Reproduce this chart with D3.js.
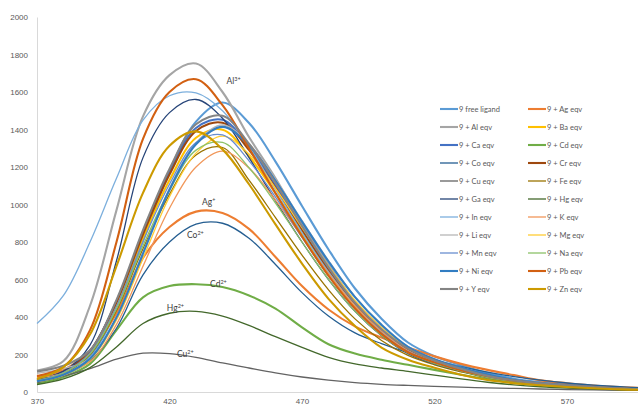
<!DOCTYPE html>
<html>
<head>
<meta charset="utf-8">
<script src="https://cdn.jsdelivr.net/npm/d3@7"></script>
<style>
  html, body { margin: 0; padding: 0; background: #fff; }
  svg { display: block; font-family: Lato, "Liberation Sans", sans-serif; }
</style>
</head>
<body>
<svg id="chart" width="638" height="407"></svg>
<script>
// Emission wavelengths (nm) at which the spectra are sampled
const wavelengths = [370,380,390,400,410,420,430,440,450,460,470,480,490,500,510,520,530,540,550,560,570,580,590,600];

const xTicks = [370, 420, 470, 520, 570];
const yTicks = [0, 200, 400, 600, 800, 1000, 1200, 1400, 1600, 1800, 2000];

const seriesNames = [
  "9 free ligand", "9 + Ag eqv", "9 + Al eqv", "9 + Ba eqv", "9 + Ca eqv", "9 + Cd eqv",
  "9 + Co eqv", "9 + Cr eqv", "9 + Cu eqv", "9 + Fe eqv", "9 + Ga eqv", "9 + Hg eqv",
  "9 + In eqv", "9 + K eqv", "9 + Li eqv", "9 + Mg eqv", "9 + Mn eqv", "9 + Na eqv",
  "9 + Ni eqv", "9 + Pb eqv", "9 + Y eqv", "9 + Zn eqv"
];

// Fluorescence intensity of each spectrum
const freeLigand = [55,101,194,434,806,1178,1442,1544,1435,1229,992,760,552,391,264,191,143,102,71,53,40,29,22,16];
const agEqv = [80,118,220,420,715,880,962,955,870,720,565,440,350,290,238,190,150,118,90,62,47,35,26,20];
const alEqv = [115,165,460,970,1470,1690,1752,1600,1360,1140,900,680,480,330,225,165,120,88,63,47,35,26,19,14];
const baEqv = [64,106,212,466,820,1130,1356,1399,1258,1060,841,632,452,318,219,160,117,82,59,44,34,25,18,14];
const caEqv = [66,110,220,484,851,1174,1408,1452,1306,1100,873,656,469,330,227,166,122,85,62,45,35,26,19,15];
const cdEqv = [45,80,150,330,505,565,575,560,515,445,345,255,205,172,145,118,92,68,50,37,27,20,15,11];
const coEqv = [60,90,165,340,625,800,895,900,820,680,530,405,315,258,210,170,135,106,82,63,48,37,28,21];
const crEqv = [65,109,218,479,841,1160,1392,1436,1291,1088,863,648,464,326,225,164,120,84,61,45,35,26,19,15];
const cuEqv = [50,85,125,175,207,205,185,155,128,102,80,63,50,41,35,30,26,22,19,16,13,11,9,8];
const feEqv = [59,99,198,435,764,1054,1264,1304,1130,930,730,545,390,275,195,145,108,76,55,41,32,24,17,13];
const gaEqv = [70,110,250,700,1250,1490,1560,1460,1250,1020,800,600,430,300,205,150,112,80,58,43,32,24,17,13];
const hgEqv = [40,70,130,240,365,420,430,405,355,295,238,185,150,128,110,90,70,52,38,28,21,16,12,9];
const inEqv = [365,515,800,1140,1450,1580,1595,1500,1310,1080,850,640,460,320,220,160,118,85,61,45,33,25,18,13];
const kEqv = [75,100,161,361,671,980,1200,1285,1195,1023,826,632,459,325,219,159,119,85,59,44,34,25,18,13];
const liEqv = [100,125,179,400,744,1087,1330,1424,1324,1134,915,701,509,360,243,176,132,94,66,49,37,27,20,14];
const mgEqv = [55,89,171,384,712,1041,1274,1365,1269,1086,877,671,488,345,233,169,126,90,63,47,36,26,19,14];
const mnEqv = [62,104,208,457,803,1108,1330,1371,1233,1039,824,619,443,312,215,157,115,80,58,43,33,25,18,14];
const naEqv = [60,101,202,444,780,1075,1290,1331,1196,1008,800,601,430,302,208,152,112,78,56,42,32,24,17,13];
const niEqv = [57,92,178,398,738,1079,1321,1414,1315,1126,909,696,506,358,241,175,131,94,65,48,37,27,20,14];
const pbEqv = [85,135,330,800,1350,1600,1668,1530,1300,1060,830,620,445,310,212,158,116,84,60,45,34,25,18,14];
const yEqv = [110,140,223,491,863,1190,1428,1473,1324,1116,885,665,476,335,231,168,124,86,62,46,36,27,19,15];
const znEqv = [70,133,307,671,1062,1313,1390,1294,1108,894,685,497,352,237,172,129,92,64,47,36,27,20,14,11];

const seriesValues = [freeLigand, agEqv, alEqv, baEqv, caEqv, cdEqv, coEqv, crEqv, cuEqv, feEqv, gaEqv,
  hgEqv, inEqv, kEqv, liEqv, mgEqv, mnEqv, naEqv, niEqv, pbEqv, yEqv, znEqv];

// Ion labels placed next to the quenched / enhanced spectra
const ionLabels = [
  { base: "Al", sup: "3+", wl: 441.5, val: 1645 },
  { base: "Ag", sup: "+",  wl: 432.3, val: 997 },
  { base: "Co", sup: "2+", wl: 426.6, val: 821 },
  { base: "Cd", sup: "2+", wl: 435.3, val: 560 },
  { base: "Hg", sup: "2+", wl: 419.0, val: 432 },
  { base: "Cu", sup: "2+", wl: 422.8, val: 187 }
];

// Line styling per series
const colors = ["#5B9BD5","#ED7D31","#A5A5A5","#FFC000","#4472C4","#70AD47","#255E91","#9E480E",
  "#636363","#997300","#264478","#43682B","#7CAFDD","#F1975A","#B7B7B7","#FFCD33","#698ED0",
  "#8CC168","#327DC2","#D26012","#848484","#CC9A00"];
const thick = new Set([0,1,2,3,4,5,7,18,19,20,21]);

const svg = d3.select("#chart");
const x = d3.scaleLinear().domain([370, 600]).range([37, 646.5]);
const y = d3.scaleLinear().domain([0, 2000]).range([392, 17]);

// Axes
const yAxis = svg.append("g").attr("transform", "translate(37,0)")
  .call(d3.axisLeft(y).tickValues(yTicks).tickSize(0).tickPadding(9).tickFormat(d3.format("d")));
yAxis.select(".domain").attr("stroke", "#D9D9D9");
yAxis.selectAll("text").attr("fill", "#595959").style("font-size", "8px").attr("font-family", null);

const xAxis = svg.append("g").attr("transform", "translate(0,392)")
  .call(d3.axisBottom(x).tickValues(xTicks).tickSize(0).tickPadding(6).tickFormat(d3.format("d")));
xAxis.select(".domain").attr("stroke", "#D9D9D9");
xAxis.selectAll("text").attr("fill", "#595959").style("font-size", "8px").attr("font-family", null);

// Spectra
const line = d3.line()
  .x((d, i) => x(wavelengths[i]))
  .y(d => y(d))
  .curve(d3.curveCatmullRom.alpha(0.5));

svg.append("g").selectAll("path")
  .data(seriesValues)
  .join("path")
  .attr("d", d => line(d))
  .attr("fill", "none")
  .attr("stroke", (d, i) => colors[i])
  .attr("stroke-width", (d, i) => thick.has(i) ? 2.1 : 1.3)
  .attr("stroke-linejoin", "round");

// Ion labels
const lab = svg.append("g").selectAll("text")
  .data(ionLabels)
  .join("text")
  .attr("x", d => x(d.wl))
  .attr("y", d => y(d.val))
  .attr("fill", "#404040")
  .style("font-size", "8.5px");
lab.append("tspan").text(d => d.base);
lab.append("tspan").text(d => d.sup).attr("dy", "-3").style("font-size", "5.5px");

// Legend
const legend = svg.append("g").selectAll("g")
  .data(seriesNames)
  .join("g")
  .attr("transform", (d, i) => `translate(${i % 2 ? 528 : 440},${109 + 18 * Math.floor(i / 2)})`);
legend.append("line")
  .attr("x1", 0).attr("x2", 18).attr("y1", 0).attr("y2", 0)
  .attr("stroke", (d, i) => colors[i])
  .attr("stroke-width", (d, i) => thick.has(i) ? 2.1 : 1.3);
legend.append("text")
  .attr("x", 19).attr("y", 0).attr("dy", "0.35em")
  .attr("fill", "#595959")
  .style("font-size", "7.5px")
  .text(d => d);
</script>
</body>
</html>
